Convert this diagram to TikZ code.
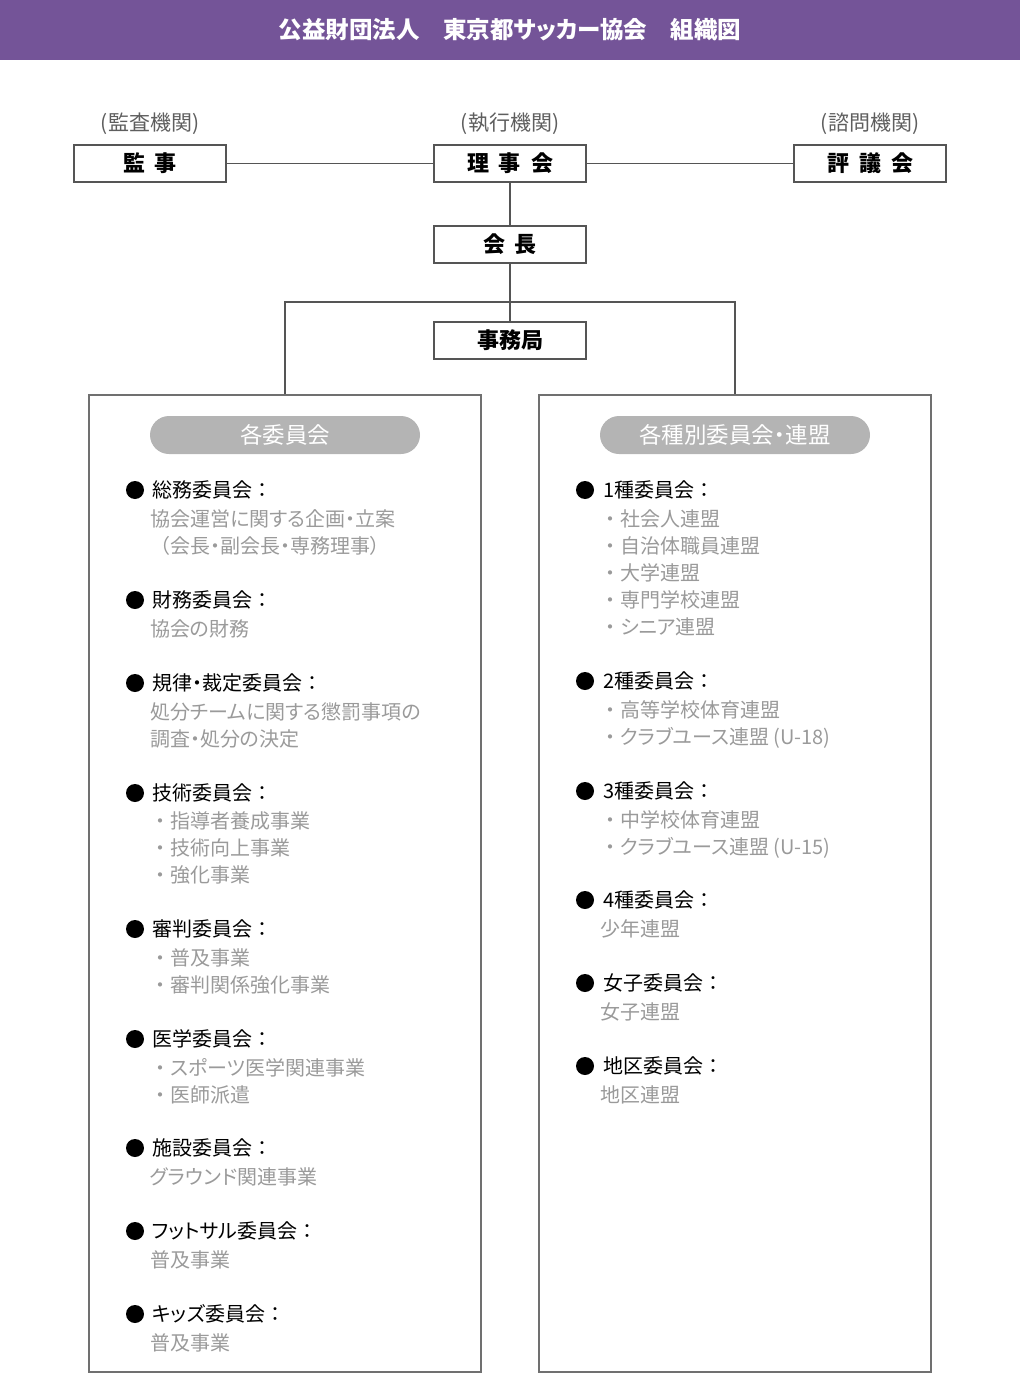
\documentclass[tikz,border=0pt]{standalone}
\usepackage{fontspec}
\setmainfont{Noto Sans CJK JP}[RawFeature=+palt]
\newfontfamily\fw{Noto Sans CJK JP}
\usepackage{xcolor}
\usetikzlibrary{positioning}

\definecolor{headpurple}{HTML}{745498}
\definecolor{pillgray}{HTML}{B4B4B4}
\definecolor{subgray}{HTML}{9A9A9A}
\definecolor{rolegray}{HTML}{5E5E5E}
\definecolor{linegray}{HTML}{555555}
\definecolor{panelgray}{HTML}{707070}

\tikzset{
  orgbox/.style={draw=linegray, line width=1.4pt, fill=white, minimum width=152, minimum height=37,
    inner sep=0pt, font=\fontsize{22}{24}\selectfont\bfseries},
  role/.style={text=rolegray, inner sep=0pt, font=\fontsize{21}{24}\selectfont},
  panel/.style={draw=panelgray, line width=1.3pt, minimum width=392, minimum height=977, inner sep=0pt},
  pill/.style={fill=pillgray, rounded corners=19, minimum width=270, minimum height=38,
    inner sep=0pt, text=white, font=\fontsize{22.5}{24}\selectfont},
  dot/.style={circle, fill=black, minimum size=18, inner sep=0pt},
  item/.style={anchor=west, inner sep=0pt, text height=17.6pt, text depth=2.4pt,
    font=\fontsize{20}{24}\selectfont},
  detail/.style={item, text=subgray},
  conn/.style={draw=linegray, line width=1.3pt}
}

\newcommand{\gap}{\hspace{10pt}}
\newcommand{\cln}{{\fw ：}}
\newcommand{\bul}{{\fw ・}}

\begin{document}
\begin{tikzpicture}[x=1pt, y=-1pt]
\useasboundingbox (0,0) rectangle (1020,1380);

% Title band
\fill[headpurple] (0,0) rectangle (1020,60);
\node[text=white, font=\fontsize{23.5}{26}\selectfont\bfseries] (title) at (510,30)
  {公益財団法人　東京都サッカー協会　組織図};

% Top organs
\node[orgbox] (kansa) at (150,163.5) {監\gap 事};
\node[orgbox] (riji) at (510,163.5) {理\gap 事\gap 会};
\node[orgbox] (hyogi) at (870,163.5) {評\gap 議\gap 会};
\node[role] (kansarole) at (150,124) {(監査機関)};
\node[role] (rijirole) at (510,124) {(執行機関)};
\node[role] (hyogirole) at (870,124) {(諮問機関)};

\node[orgbox] (kaicho) at (510,244.5) {会\gap 長};
\node[orgbox] (jimu) at (510,340.5) {事務局};

% Panels
\node[panel] (lpanel) at (285,883.5) {};
\node[panel] (rpanel) at (735,883.5) {};
\node[pill] (lpill) at (285,435) {各委員会};
\node[pill] (rpill) at (735,435) {各種別委員会・連盟};

% Connectors
\coordinate (split) at (510,302);
\draw[conn] (kansa) -- (riji);
\draw[conn] (riji) -- (hyogi);
\draw[conn] (riji) -- (kaicho);
\draw[conn] (kaicho) -- (jimu);
\draw[conn] (lpanel.north) |- (split) -| (rpanel.north);

% Left column
\node[dot] (ld1) at (135,490) {};
\node[item] (lh1) at (152,490) {総務委員会\cln};
\node[detail] (ls1a) at (150,519) {協会運営に関する企画・立案};
\node[detail] (ls1b) at (150,546) {{\fw （}会長・副会長・専務理事）};

\node[dot] (ld2) at (135,600) {};
\node[item] (lh2) at (152,600) {財務委員会\cln};
\node[detail] (ls2a) at (150,629) {協会の財務};

\node[dot] (ld3) at (135,683) {};
\node[item] (lh3) at (152,683) {規律・裁定委員会\cln};
\node[detail] (ls3a) at (150,712) {処分チームに関する懲罰事項の};
\node[detail] (ls3b) at (150,739) {調査・処分の決定};

\node[dot] (ld4) at (135,793) {};
\node[item] (lh4) at (152,793) {技術委員会\cln};
\node[detail] (ls4a) at (150,821) {\bul 指導者養成事業};
\node[detail] (ls4b) at (150,848) {\bul 技術向上事業};
\node[detail] (ls4c) at (150,875) {\bul 強化事業};

\node[dot] (ld5) at (135,929) {};
\node[item] (lh5) at (152,929) {審判委員会\cln};
\node[detail] (ls5a) at (150,958) {\bul 普及事業};
\node[detail] (ls5b) at (150,985) {\bul 審判関係強化事業};

\node[dot] (ld6) at (135,1039) {};
\node[item] (lh6) at (152,1039) {医学委員会\cln};
\node[detail] (ls6a) at (150,1068) {\bul スポーツ医学関連事業};
\node[detail] (ls6b) at (150,1095) {\bul 医師派遣};

\node[dot] (ld7) at (135,1148) {};
\node[item] (lh7) at (152,1148) {施設委員会\cln};
\node[detail] (ls7a) at (150,1177) {グラウンド関連事業};

\node[dot] (ld8) at (135,1231) {};
\node[item] (lh8) at (152,1231) {フットサル委員会\cln};
\node[detail] (ls8a) at (150,1260) {普及事業};

\node[dot] (ld9) at (135,1314) {};
\node[item] (lh9) at (152,1314) {キッズ委員会\cln};
\node[detail] (ls9a) at (150,1343) {普及事業};

% Right column
\node[dot] (rd1) at (585,490) {};
\node[item] (rh1) at (603,490) {1種委員会\cln};
\node[detail] (rs1a) at (600,519) {\bul 社会人連盟};
\node[detail] (rs1b) at (600,546) {\bul 自治体職員連盟};
\node[detail] (rs1c) at (600,573) {\bul 大学連盟};
\node[detail] (rs1d) at (600,600) {\bul 専門学校連盟};
\node[detail] (rs1e) at (600,627) {\bul シニア連盟};

\node[dot] (rd2) at (585,681) {};
\node[item] (rh2) at (603,681) {2種委員会\cln};
\node[detail] (rs2a) at (600,710) {\bul 高等学校体育連盟};
\node[detail] (rs2b) at (600,737) {\bul クラブユース連盟 (U-18)};

\node[dot] (rd3) at (585,791) {};
\node[item] (rh3) at (603,791) {3種委員会\cln};
\node[detail] (rs3a) at (600,820) {\bul 中学校体育連盟};
\node[detail] (rs3b) at (600,847) {\bul クラブユース連盟 (U-15)};

\node[dot] (rd4) at (585,900) {};
\node[item] (rh4) at (603,900) {4種委員会\cln};
\node[detail] (rs4a) at (600,929) {少年連盟};

\node[dot] (rd5) at (585,983) {};
\node[item] (rh5) at (603,983) {女子委員会\cln};
\node[detail] (rs5a) at (600,1012) {女子連盟};

\node[dot] (rd6) at (585,1066) {};
\node[item] (rh6) at (603,1066) {地区委員会\cln};
\node[detail] (rs6a) at (600,1095) {地区連盟};

\end{tikzpicture}
\end{document}
